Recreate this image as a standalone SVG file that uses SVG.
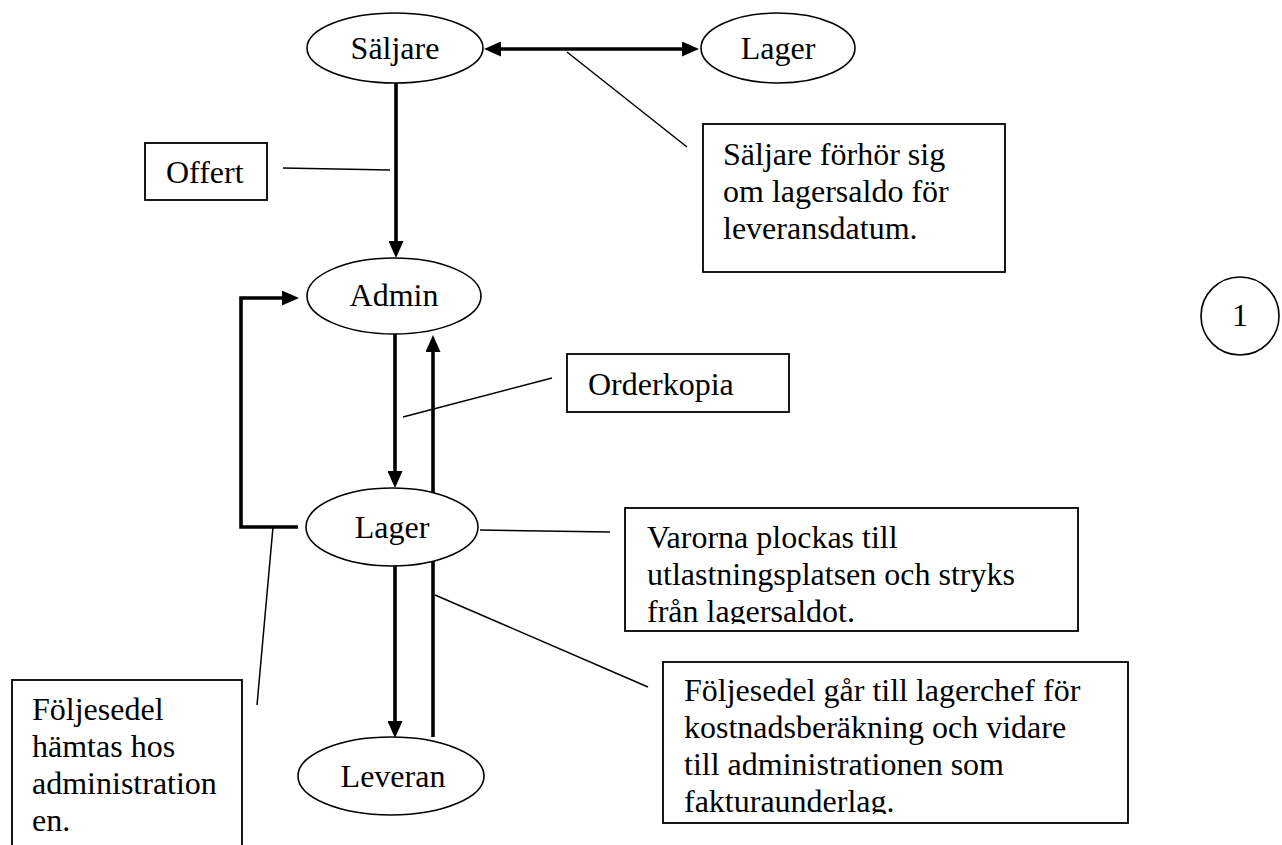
<svg xmlns="http://www.w3.org/2000/svg" width="1282" height="845" viewBox="0 0 1282 845">
  <style>
    text { font-family: "Liberation Serif", "Times New Roman", serif; font-size: 32px; fill: #000; }
    .mid { text-anchor: middle; }
    .node { fill: #fff; stroke: #000; stroke-width: 1.6; }
    .box { fill: #fff; stroke: #000; stroke-width: 1.8; }
    .flow { fill: none; stroke: #000; stroke-width: 3.6; stroke-linejoin: miter; }
    .note { fill: none; stroke: #000; stroke-width: 1.5; }
  </style>
  <defs>
    <marker id="head" markerUnits="userSpaceOnUse" markerWidth="17" markerHeight="15" refX="6" refY="7.5" orient="auto-start-reverse">
      <path d="M0,0 L17,7.5 L0,15 Z" fill="#000"/>
    </marker>
    <clipPath id="clipPick"><rect x="620" y="500" width="470" height="124"/></clipPath>
    <clipPath id="clipSlip"><rect x="655" y="655" width="480" height="159"/></clipPath>
  </defs>

  <rect width="1282" height="845" fill="#fff"/>

  <!-- flows between the actors, plus thin leader lines to the notes -->
  <g id="connectors">
    <path class="flow" d="M495,49 L688,49" marker-start="url(#head)" marker-end="url(#head)"/>
    <path class="flow" d="M396,83 L396,247" marker-end="url(#head)"/>
    <path class="flow" d="M395,334 L395,477" marker-end="url(#head)"/>
    <path class="flow" d="M433,737 L433,346" marker-end="url(#head)"/>
    <path class="flow" d="M395,566 L395,727" marker-end="url(#head)"/>
    <path class="flow" d="M298,527 L241,527 L241,298 L288,298" marker-end="url(#head)"/>

    <line class="note" x1="567" y1="52" x2="687" y2="147"/>
    <line class="note" x1="283" y1="168" x2="390" y2="170"/>
    <line class="note" x1="403" y1="417" x2="552" y2="378"/>
    <line class="note" x1="480" y1="530" x2="610" y2="532"/>
    <line class="note" x1="273" y1="527" x2="257" y2="705"/>
    <line class="note" x1="435" y1="595" x2="648" y2="687"/>
  </g>

  <g id="saljare">
    <ellipse class="node" cx="395" cy="48" rx="88" ry="35"/>
    <text class="mid" x="395" y="59">Säljare</text>
  </g>

  <g id="lager-top">
    <ellipse class="node" cx="778" cy="48" rx="77" ry="35"/>
    <text class="mid" x="778" y="59">Lager</text>
  </g>

  <g id="admin">
    <ellipse class="node" cx="394" cy="296" rx="87" ry="38"/>
    <text class="mid" x="394" y="306">Admin</text>
  </g>

  <g id="lager">
    <ellipse class="node" cx="392" cy="527" rx="86" ry="39"/>
    <text class="mid" x="392" y="538">Lager</text>
  </g>

  <g id="leveran">
    <ellipse class="node" cx="391" cy="776" rx="93" ry="39"/>
    <text class="mid" x="393" y="787">Leveran</text>
  </g>

  <g id="page-number">
    <circle class="node" cx="1240" cy="316" r="39"/>
    <text class="mid" x="1240" y="326">1</text>
  </g>

  <g id="note-offert">
    <rect class="box" x="145" y="143" width="122" height="57"/>
    <text x="166" y="183">Offert</text>
  </g>

  <g id="note-saldo">
    <rect class="box" x="703" y="124" width="302" height="148"/>
    <text x="723" y="165">Säljare förhör sig</text>
    <text x="723" y="202">om lagersaldo för</text>
    <text x="723" y="239">leveransdatum.</text>
  </g>

  <g id="note-orderkopia">
    <rect class="box" x="567" y="354" width="222" height="58"/>
    <text x="588" y="395">Orderkopia</text>
  </g>

  <g id="note-plock">
    <rect class="box" x="625" y="508" width="453" height="123"/>
    <g clip-path="url(#clipPick)">
      <text x="647" y="548">Varorna plockas till</text>
      <text x="647" y="585">utlastningsplatsen och stryks</text>
      <text x="647" y="622">från lagersaldot.</text>
    </g>
  </g>

  <g id="note-foljesedel">
    <rect class="box" x="663" y="662" width="465" height="161"/>
    <g clip-path="url(#clipSlip)">
      <text x="684" y="701">Följesedel går till lagerchef för</text>
      <text x="684" y="738">kostnadsberäkning och vidare</text>
      <text x="684" y="775">till administrationen som</text>
      <text x="684" y="812">fakturaunderlag.</text>
    </g>
  </g>

  <g id="note-hamtas">
    <rect class="box" x="12" y="680" width="230" height="180"/>
    <text x="32" y="720">Följesedel</text>
    <text x="32" y="757">hämtas hos</text>
    <text x="32" y="794">administration</text>
    <text x="32" y="831">en.</text>
  </g>
</svg>
